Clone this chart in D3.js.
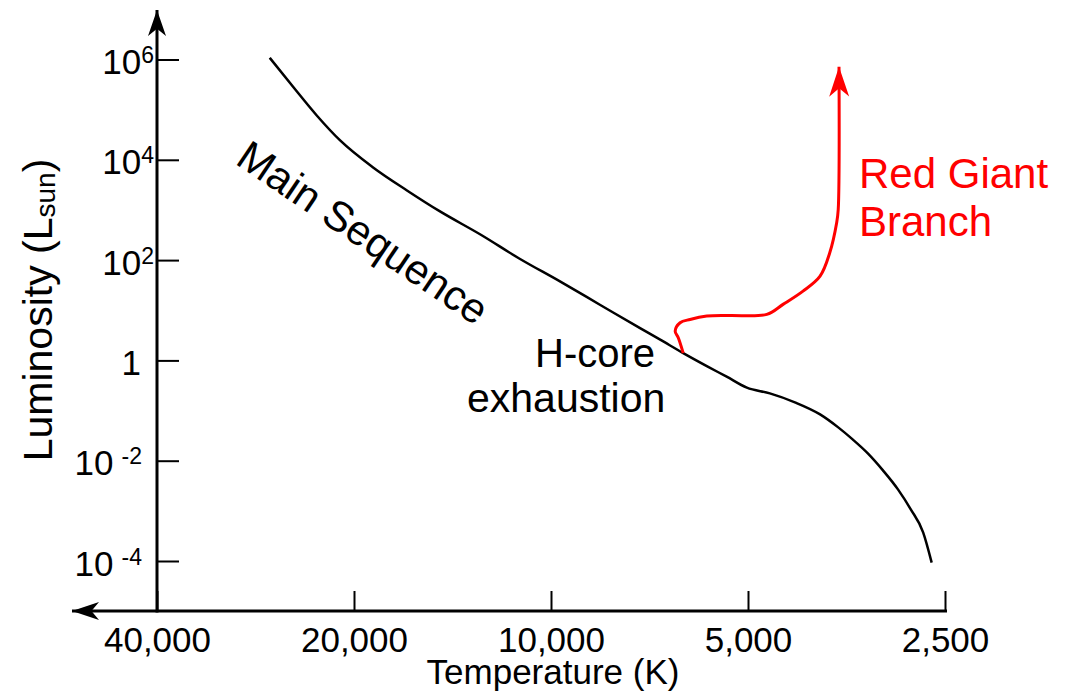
<!DOCTYPE html>
<html>
<head>
<meta charset="utf-8">
<script src="https://cdn.jsdelivr.net/npm/d3@7"></script>
<style>
  body { margin: 0; background: #fff; }
  svg { display: block; }
</style>
</head>
<body>
<div class="hr_chart"></div>
<script>
const width = 1072;
const height = 699;
const font = "'Liberation Sans', Arial, Helvetica, sans-serif";

// Main sequence (temperature in K, luminosity in L_sun)
const msTemp = [26900, 24800, 22800, 21000, 18700, 16600, 14800, 12800, 11200, 9690, 8420, 7310, 6810, 6280,
    5780, 5390, 5020, 4630, 4240, 3880, 3640, 3460, 3280, 3110, 2950, 2820, 2700, 2620];
const msLum = [1.08e6, 2.89e5, 7.65e4, 2.43e4, 7030, 2450, 946, 320, 109, 37.6, 12.9, 4.40, 2.59, 1.40,
    0.770, 0.473, 0.286, 0.220, 0.146, 0.0839, 0.0462, 0.0266, 0.0140, 0.00642, 0.00268, 0.00107, 3.73e-4, 9.3e-5];

// Red giant branch track (leaves the main sequence at H-core exhaustion)
const rgbTemp = [6280, 6390, 6460, 6350, 6130, 5780, 5330, 4680, 4420, 4120, 3880, 3750, 3660, 3640, 3630];
const rgbLum = [1.40, 2.83, 3.84, 5.64, 6.56, 7.64, 7.88, 8.26, 13.1, 24.1, 47.9, 140, 556, 1020, 7.2e5];

// Axis ticks
const tempTicks = [40000, 20000, 10000, 5000, 2500];
const lumTicks = [1e-4, 1e-2, 1, 1e2, 1e4, 1e6];

const mainSeq = msTemp.map((t, i) => ({ t: t, l: msLum[i] }));
const redGiant = rgbTemp.map((t, i) => ({ t: t, l: rgbLum[i] }));

// Scales: hot stars on the left
const x = d3.scaleLog().domain([40000, 2500]).range([157, 945]);
const y = d3.scaleLog().domain([1e-4, 1e6]).range([561, 59.5]);
const axisY = 611;

const svg = d3.select(".hr_chart").append("svg")
    .attr("width", width)
    .attr("height", height)
    .style("font-family", font);

// arrow heads
const defs = svg.append("defs");
function arrow(id, color, len, half) {
    defs.append("marker")
        .attr("id", id)
        .attr("markerUnits", "userSpaceOnUse")
        .attr("viewBox", `${-len - 2} ${-half - 2} ${len + 4} ${half * 2 + 4}`)
        .attr("markerWidth", len + 4)
        .attr("markerHeight", half * 2 + 4)
        .attr("refX", 0)
        .attr("refY", 0)
        .attr("orient", "auto")
        .append("path")
        .attr("d", `M0,0L${-len},${-half}L${-len * 0.72},0L${-len},${half}Z`)
        .attr("fill", color);
}
arrow("arrowBlackY", "#000", 26, 9);
arrow("arrowBlackX", "#000", 27, 9);
arrow("arrowRed", "#ff0000", 30, 10);

// the X Axis
svg.append("g")
    .attr("transform", `translate(0,${axisY})`)
    .call(d3.axisBottom(x).tickValues(tempTicks).tickFormat(d3.format(","))
        .tickSizeInner(-20).tickSizeOuter(0).tickPadding(16))
    .attr("font-family", font)
    .attr("font-size", 35)
    .call(g => g.select(".domain").remove())
    .call(g => g.selectAll(".tick line").attr("stroke", "#000").attr("stroke-width", 2))
    .call(g => g.selectAll(".tick text").attr("fill", "#000"));

// the Y Axis, ticks point into the plot
svg.append("g")
    .attr("transform", `translate(${x(40000)},0)`)
    .call(d3.axisLeft(y).tickValues(lumTicks)
        .tickSizeInner(-22).tickSizeOuter(0).tickPadding(3))
    .attr("font-family", font)
    .attr("font-size", 35)
    .call(g => g.select(".domain").remove())
    .call(g => g.selectAll(".tick line").attr("stroke", "#000").attr("stroke-width", 2))
    .call(g => g.selectAll(".tick text").each(function (d) {
        const e = Math.round(Math.log10(d));
        const t = d3.select(this).text(null).attr("fill", "#000").attr("dy", "0.4em");
        if (e === 0) {
            t.attr("dx", -13).text("1");
            return;
        }
        t.append("tspan").text("10");
        const sup = t.append("tspan").attr("font-size", 23).attr("dy", -11).text(e);
        if (e < 0) {
            sup.attr("dx", 8);
            t.attr("dx", -12);
        }
    }));

// axis lines with arrows
svg.append("line")
    .attr("x1", x(40000)).attr("y1", axisY + 1.5)
    .attr("x2", x(40000)).attr("y2", 10)
    .attr("stroke", "#000").attr("stroke-width", 3)
    .attr("marker-end", "url(#arrowBlackY)");

svg.append("line")
    .attr("x1", x(2500) + 2).attr("y1", axisY)
    .attr("x2", 72).attr("y2", axisY)
    .attr("stroke", "#000").attr("stroke-width", 3)
    .attr("marker-end", "url(#arrowBlackX)");

// axis labels
svg.append("text")
    .attr("x", 553)
    .attr("y", 684)
    .attr("text-anchor", "middle")
    .attr("font-size", 35)
    .text("Temperature (K)");

const yLabel = svg.append("text")
    .attr("transform", "translate(52,310) rotate(-90)")
    .attr("text-anchor", "middle")
    .attr("font-size", 41);
yLabel.append("tspan").text("Luminosity (L");
yLabel.append("tspan").attr("font-size", 28).attr("dy", 3).text("sun");
yLabel.append("tspan").attr("dy", -3).text(")");

// Main sequence line
const msLine = d3.line()
    .x(d => x(d.t))
    .y(d => y(d.l))
    .curve(d3.curveMonotoneX);

svg.append("path")
    .datum(mainSeq)
    .attr("fill", "none")
    .attr("stroke", "#000")
    .attr("stroke-width", 2.5)
    .attr("d", msLine);

// Red giant branch
const rgbLine = d3.line()
    .x(d => x(d.t))
    .y(d => y(d.l))
    .curve(d3.curveCatmullRom.alpha(0.5));

svg.append("path")
    .datum(redGiant)
    .attr("fill", "none")
    .attr("stroke", "#ff0000")
    .attr("stroke-width", 3)
    .attr("marker-end", "url(#arrowRed)")
    .attr("d", rgbLine);

// annotations
svg.append("text")
    .attr("transform", "translate(234,163) rotate(34)")
    .attr("font-size", 42)
    .text("Main Sequence");

svg.append("text")
    .attr("x", 535).attr("y", 367)
    .attr("font-size", 40)
    .text("H-core");
svg.append("text")
    .attr("x", 467).attr("y", 412)
    .attr("font-size", 41)
    .text("exhaustion");

svg.append("text")
    .attr("x", 859).attr("y", 188)
    .attr("font-size", 42)
    .attr("fill", "#ff0000")
    .text("Red Giant");
svg.append("text")
    .attr("x", 859).attr("y", 236)
    .attr("font-size", 42)
    .attr("fill", "#ff0000")
    .text("Branch");
</script>
</body>
</html>
